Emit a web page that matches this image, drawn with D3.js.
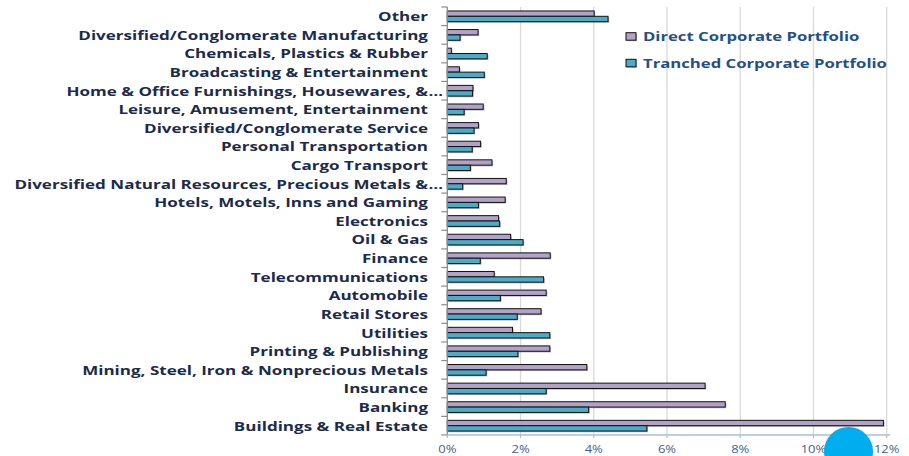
<!DOCTYPE html>
<html>
<head>
<meta charset="utf-8">
<script src="https://cdn.jsdelivr.net/npm/d3@7"></script>
<style>
  html, body { margin: 0; padding: 0; background: #ffffff; }
  svg { display: block; }
</style>
</head>
<body>
<svg id="chart" width="909" height="456"></svg>
<script>
// Industry categories, listed top to bottom
const categories = [
  "Other",
  "Diversified/Conglomerate Manufacturing",
  "Chemicals, Plastics & Rubber",
  "Broadcasting & Entertainment",
  "Home & Office Furnishings, Housewares, &…",
  "Leisure, Amusement, Entertainment",
  "Diversified/Conglomerate Service",
  "Personal Transportation",
  "Cargo Transport",
  "Diversified Natural Resources, Precious Metals &…",
  "Hotels, Motels, Inns and Gaming",
  "Electronics",
  "Oil & Gas",
  "Finance",
  "Telecommunications",
  "Automobile",
  "Retail Stores",
  "Utilities",
  "Printing & Publishing",
  "Mining, Steel, Iron & Nonprecious Metals",
  "Insurance",
  "Banking",
  "Buildings & Real Estate"
];

// Share of portfolio, in percent
const directValues = [
  4.01, 0.84, 0.11, 0.33, 0.70, 0.98, 0.85, 0.91, 1.22, 1.61, 1.58, 1.40,
  1.73, 2.81, 1.28, 2.70, 2.56, 1.78, 2.80, 3.81, 7.04, 7.59, 11.91
];
const tranchedValues = [
  4.39, 0.35, 1.09, 1.01, 0.69, 0.46, 0.73, 0.68, 0.63, 0.42, 0.85, 1.43,
  2.07, 0.90, 2.63, 1.45, 1.91, 2.80, 1.93, 1.06, 2.70, 3.86, 5.45
];

const seriesNames = ["Direct Corporate Portfolio", "Tranched Corporate Portfolio"];
const seriesColors = ["#b3a2c7", "#4bacc6"];
const xTicks = [0, 2, 4, 6, 8, 10, 12];
const xTickLabels = ["0%", "2%", "4%", "6%", "8%", "10%", "12%"];

const svg = d3.select("#chart");

const plot = { left: 447.3, right: 886.7, top: 7, bottom: 435 };
const labelStretch = 1.42;

const x = d3.scaleLinear().domain([0, 12]).range([plot.left, plot.right]);
const y = d3.scaleBand().domain(categories).range([plot.top, plot.bottom])
  .paddingInner(0.425).paddingOuter(0.2125);
const ySeries = d3.scaleBand().domain(seriesNames).range([0, y.bandwidth()]).padding(0);

const rows = categories.map((c, i) => ({
  category: c,
  values: [
    { series: seriesNames[0], value: directValues[i], color: seriesColors[0] },
    { series: seriesNames[1], value: tranchedValues[i], color: seriesColors[1] }
  ]
}));

// Vertical gridlines
svg.append("g")
  .selectAll("line")
  .data(xTicks.filter(t => t > 0))
  .join("line")
  .attr("x1", d => x(d)).attr("x2", d => x(d))
  .attr("y1", plot.top).attr("y2", plot.bottom)
  .attr("stroke", "#d9d9d9")
  .attr("stroke-width", 1.3);

// Bars with a soft drop shadow
const groups = svg.append("g")
  .selectAll("g")
  .data(rows)
  .join("g")
  .attr("transform", d => `translate(0,${y(d.category)})`);

groups.selectAll("rect.shadow")
  .data(d => d.values)
  .join("rect")
  .attr("class", "shadow")
  .attr("x", x(0) + 1.2)
  .attr("y", d => ySeries(d.series) + 1.2)
  .attr("width", d => x(d.value) - x(0))
  .attr("height", ySeries.bandwidth())
  .attr("fill", "#7f7f7f")
  .attr("opacity", 0.55);

groups.selectAll("rect.bar")
  .data(d => d.values)
  .join("rect")
  .attr("class", "bar")
  .attr("x", x(0))
  .attr("y", d => ySeries(d.series))
  .attr("width", d => x(d.value) - x(0))
  .attr("height", ySeries.bandwidth())
  .attr("fill", d => d.color)
  .attr("stroke", "#111111")
  .attr("stroke-width", 1);

// Category axis
const yAxis = svg.append("g")
  .attr("transform", `translate(${plot.left},0)`);
yAxis.append("line")
  .attr("x1", 0).attr("x2", 0)
  .attr("y1", plot.top).attr("y2", plot.bottom)
  .attr("stroke", "#8c8c8c").attr("stroke-width", 1.3);
const bounds = categories.map(c => y(c) - y.step() * y.paddingInner() / 2).concat([plot.bottom]);
yAxis.selectAll("line.tick")
  .data(bounds)
  .join("line")
  .attr("class", "tick")
  .attr("x1", -6).attr("x2", 0)
  .attr("y1", d => d).attr("y2", d => d)
  .attr("stroke", "#8c8c8c").attr("stroke-width", 1.2);

// Category labels; a trailing ellipsis hangs past the label edge
const ELLIPSIS = "…";
const labels = svg.append("g")
  .selectAll("g")
  .data(categories)
  .join("g")
  .attr("transform", d => `translate(428,${y(d) + y.bandwidth() / 2}) scale(${labelStretch},1)`)
  .attr("font-family", "'Open Sans', sans-serif")
  .attr("font-weight", 700)
  .attr("font-size", 12)
  .attr("fill", "#1c2b4b");
labels.append("text")
  .attr("text-anchor", "end")
  .attr("dominant-baseline", "central")
  .text(d => d.endsWith(ELLIPSIS) ? d.slice(0, -1) : d);
labels.filter(d => d.endsWith(ELLIPSIS))
  .append("text")
  .attr("x", 0.3)
  .attr("text-anchor", "start")
  .attr("dominant-baseline", "central")
  .attr("letter-spacing", -0.6)
  .text(ELLIPSIS);

// Value axis
const xAxis = svg.append("g");
xAxis.append("line")
  .attr("x1", plot.left).attr("x2", 890)
  .attr("y1", plot.bottom).attr("y2", plot.bottom)
  .attr("stroke", "#a9bedb").attr("stroke-width", 1.5);
xAxis.selectAll("line.tick")
  .data(xTicks)
  .join("line")
  .attr("class", "tick")
  .attr("x1", d => x(d)).attr("x2", d => x(d))
  .attr("y1", plot.bottom).attr("y2", plot.bottom + 3)
  .attr("stroke", "#a9bedb").attr("stroke-width", 1.2);
xAxis.selectAll("text")
  .data(xTicks)
  .join("text")
  .attr("transform", d => `translate(${x(d)},449) scale(1.3,1)`)
  .attr("text-anchor", "middle")
  .attr("dominant-baseline", "central")
  .attr("font-family", "'Open Sans', sans-serif")
  .attr("font-size", 10)
  .attr("fill", "#3d5f94")
  .text((d, i) => xTickLabels[i]);

// Legend
const legend = svg.append("g")
  .selectAll("g")
  .data(seriesNames)
  .join("g")
  .attr("transform", (d, i) => `translate(626,${32.7 + i * 26.6})`);
legend.append("rect")
  .attr("x", 1).attr("y", 1).attr("width", 10).attr("height", 7.5)
  .attr("fill", "#7f7f7f").attr("opacity", 0.55);
legend.append("rect")
  .attr("width", 10).attr("height", 7.5)
  .attr("fill", (d, i) => seriesColors[i])
  .attr("stroke", "#111111").attr("stroke-width", 1);
legend.append("text")
  .attr("transform", `translate(17,4) scale(${labelStretch},1)`)
  .attr("dominant-baseline", "central")
  .attr("font-family", "'Open Sans', sans-serif")
  .attr("font-weight", 700)
  .attr("font-size", 11.75)
  .attr("fill", "#24508a")
  .text(d => d);

// Round badge in the lower right corner
svg.append("circle")
  .attr("cx", 848.5).attr("cy", 451.5).attr("r", 24.5)
  .attr("fill", "#00aeef");
</script>
</body>
</html>
